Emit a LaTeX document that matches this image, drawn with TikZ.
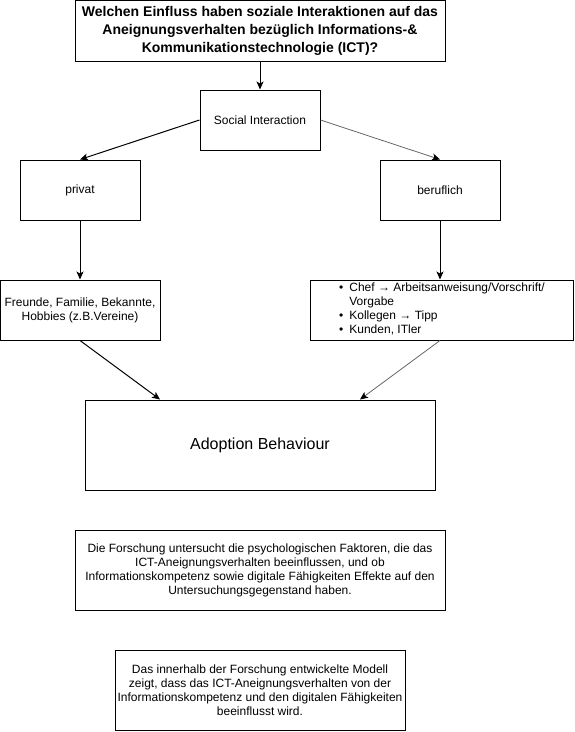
\documentclass[tikz,border=0pt]{standalone}
\usepackage{fontspec}
\setmainfont{Liberation Sans}
\usepackage{tikz}
\usetikzlibrary{arrows.meta,positioning}

\tikzset{
  box/.style={draw, line width=1pt, align=center, inner sep=2pt,
    font=\fontsize{12}{14}\selectfont},
  link/.style={line width=1pt, -{Stealth[length=8pt,width=7pt,inset=2pt]}},
  greylink/.style={link, draw=black!60, line width=0.8pt,
    -{Stealth[length=8pt,width=7pt,inset=2pt,fill=black,color=black]}},
}

\begin{document}
\begin{tikzpicture}[x=1pt,y=-1pt]
\useasboundingbox (0,0) rectangle (574,732);
%research question on top
\node[box, minimum width=370, minimum height=61, font=\fontsize{14}{18}\selectfont\bfseries]
  (question) at (260,31) {Welchen Einfluss haben soziale Interaktionen auf das\\
  Aneignungsverhalten bezüglich Informations-\&\\
  Kommunikationstechnologie (ICT)?};
%social interaction and its two sides
\node[box, minimum width=120, minimum height=60] (social) at (260,120) {Social Interaction};
\node[box, minimum width=120, minimum height=60] (privat) at (80,190) {privat};
\node[box, minimum width=120, minimum height=60] (beruf) at (440,190) {beruflich};
%who the interaction is with
\node[box, minimum width=160, minimum height=60] (freunde) at (80,310)
  {Freunde, Familie, Bekannte,\\ Hobbies (z.B.Vereine)};
\node[box, minimum width=263, minimum height=60] (chef) at (441.5,310) {};
\node[anchor=west, inner sep=0pt, font=\fontsize{12}{14}\selectfont] (chefliste) at (339,310)
  {\begin{tabular}{@{}l@{\hspace{6pt}}l@{}}
   \textbullet & Chef → Arbeitsanweisung/Vorschrift/\\
               & Vorgabe\\
   \textbullet & Kollegen → Tipp\\
   \textbullet & Kunden, ITler
   \end{tabular}};
%outcome
\node[box, minimum width=350, minimum height=90, font=\fontsize{16}{19}\selectfont]
  (adoption) at (260,445) {Adoption Behaviour};
%text boxes at the bottom
\node[box, minimum width=370, minimum height=80] (forschung) at (260,570)
  {Die Forschung untersucht die psychologischen Faktoren, die das\\
  ICT-Aneignungsverhalten beeinflussen, und ob\\
  Informationskompetenz sowie digitale Fähigkeiten Effekte auf den\\
  Untersuchungsgegenstand haben.};
\node[box, minimum width=290, minimum height=80] (modell) at (260,690)
  {Das innerhalb der Forschung entwickelte Modell\\
  zeigt, dass das ICT-Aneignungsverhalten von der\\
  Informationskompetenz und den digitalen Fähigkeiten\\
  beeinflusst wird.};
%arrows
\draw[link] (question) -- (social);
\draw[link] (social.west) -- (privat.north);
\draw[greylink] (social.east) -- (beruf.north);
\draw[link] (privat) -- (freunde);
\draw[link] (beruf.south) -- (beruf.south |- chef.north);
\draw[link] (freunde.south) -- ([xshift=-100pt]adoption.north);
\draw[greylink] ([xshift=-1.5pt]chef.south) -- ([xshift=100pt]adoption.north);
\end{tikzpicture}
\end{document}
